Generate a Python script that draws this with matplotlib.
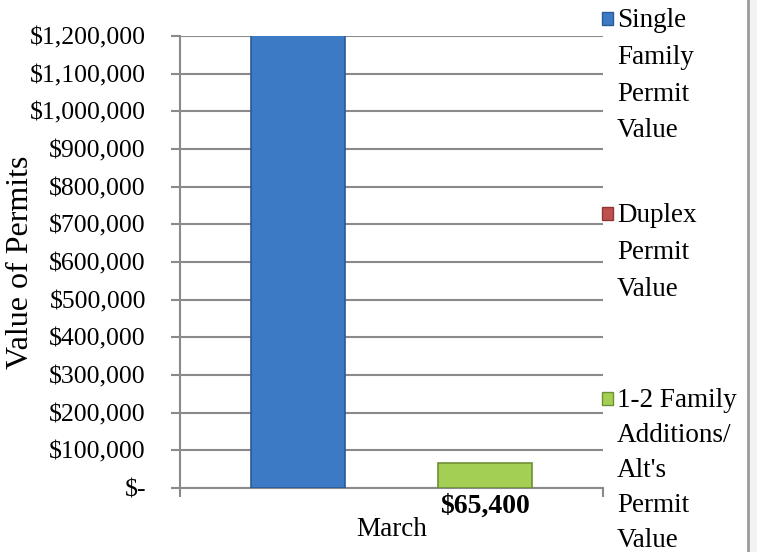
import matplotlib
matplotlib.use("Agg")
import matplotlib.pyplot as plt
from matplotlib.patches import Rectangle
from matplotlib.lines import Line2D
from matplotlib.ticker import FuncFormatter, MultipleLocator

plt.rcParams['font.family'] = ['Liberation Serif', 'DejaVu Serif']

categories = ["March"]
series_names = ["Single\nFamily\nPermit\nValue", "Duplex\nPermit\nValue",
                "1-2 Family\nAdditions/\nAlt's\nPermit\nValue"]
values = [1300000, 0, 65400]
colors = ["#3d7ac6", "#c0504d", "#a4cf55"]
edges = ["#2c5a94", "#8c3836", "#6f8f35"]
label_series = [2]

fig = plt.figure(figsize=(7.57, 5.52), dpi=100)
ax = fig.add_axes([180/757, 1-488/552, 423/757, 452/552])

w = 0.222
offsets = [-w, 0, w]
for i, (v, c, e) in enumerate(zip(values, colors, edges)):
    ax.bar([0 + offsets[i]], [v], width=w, color=c, edgecolor=e,
           linewidth=1.2 if v > 0 else 0, zorder=3)
    if i in label_series:
        ax.annotate("${:,.0f}".format(v), xy=(offsets[i], 0), xytext=(0, -4),
                    textcoords="offset points", ha="center", va="top",
                    fontsize=20, fontweight="bold", color="black")

ax.set_ylim(0, 1200000)
ax.set_xlim(-0.5, 0.5)
ax.yaxis.set_major_locator(MultipleLocator(100000))
ax.yaxis.set_major_formatter(FuncFormatter(lambda v, p: "$-" if v == 0 else "${:,.0f}".format(v)))
ax.grid(axis="y", color="#8a8a8a", linewidth=1.5, zorder=0)
ax.set_axisbelow(True)
for s in ["top", "right"]:
    ax.spines[s].set_visible(False)
for s in ["left", "bottom"]:
    ax.spines[s].set_color("#8a8a8a")
    ax.spines[s].set_linewidth(1.5)
ax.tick_params(axis="y", labelsize=18.5, length=6.5, width=1.5, color="#8a8a8a", pad=18)
ax.set_xticks([0])
ax.set_xticklabels(categories)
ax.set_xticks([-0.5, 0.5], minor=True)
ax.tick_params(axis="x", which="major", length=0, labelsize=19.5, pad=21)
ax.tick_params(axis="x", which="minor", length=6.5, width=1.5, color="#8a8a8a")

fig.text(21/757, 1-262/552, "Value of Permits", rotation=90, ha="center", va="center", fontsize=23)

# legend
leg_tops = [18, 213, 398]
leg_spacing = [1.62, 1.62, 1.52]
for name, c, e, ty, ls in zip(series_names, colors, edges, leg_tops, leg_spacing):
    fig.text(617/757, 1-(ty-10)/552, name, ha="left", va="top", fontsize=19.5, linespacing=ls)
    fig.patches.append(Rectangle((602/757, 1-(ty+7)/552), 11/757, 13/552,
                                 transform=fig.transFigure, facecolor=c, edgecolor=e, linewidth=1))

fig.add_artist(Line2D([748/757, 748/757], [0, 1], transform=fig.transFigure, color="#9a9a9a", linewidth=2))
fig.patches.append(Rectangle((750/757, 0), 7/757, 1, transform=fig.transFigure, facecolor="#f2f2f2", edgecolor="none"))

fig.savefig("out.png", dpi=100)
